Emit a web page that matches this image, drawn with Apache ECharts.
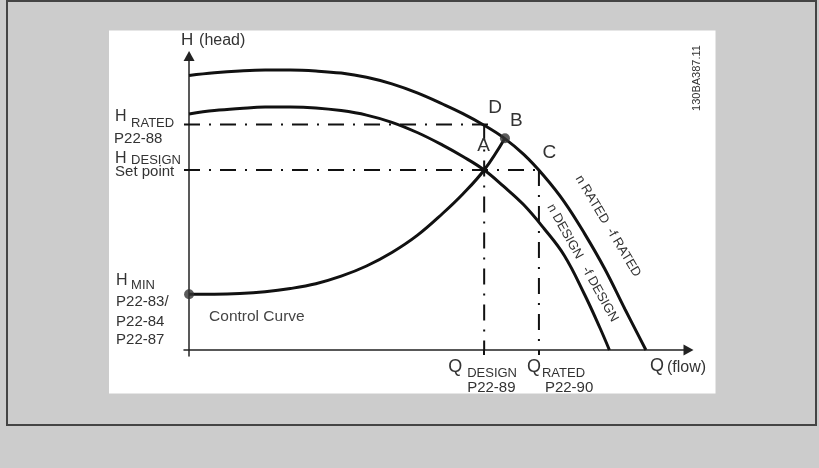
<!DOCTYPE html>
<html>
<head>
<meta charset="utf-8">
<script src="https://cdn.jsdelivr.net/npm/echarts@6/dist/echarts.min.js"></script>
<style>
  html, body { margin: 0; padding: 0; background: #cccccc; }
  #chart { width: 819px; height: 468px; }
</style>
</head>
<body>
<div id="chart"></div>
<script>
// Pump curves: flow Q (x) against head H (y), both in relative units.
const ratedCurve = [
  [0, 91.5], [5, 92.4], [10, 93.0], [15, 93.3], [20, 93.3], [25, 93.0], [30, 92.3],
  [35, 90.9], [40, 88.7], [45, 85.7], [50, 82.0], [54, 78.8], [58, 75.1], [62, 70.8],
  [66, 65.2], [70, 58.0], [74, 49.4], [78, 38.8], [82, 27.0], [86, 13.5], [90.1, 0]
];
const designCurve = [
  [0, 78.7], [5, 79.8], [10, 80.5], [15, 81.0], [20, 81.0], [25, 80.7], [30, 79.8],
  [35, 78.3], [40, 75.9], [45, 72.5], [50, 68.3], [54, 64.5], [58.2, 60.0], [62, 54.6],
  [66, 48.4], [70, 40.5], [74, 31.5], [78, 18.5], [81, 7.5], [82.9, 0]
];
const controlCurve = [
  [0, 18.6], [5, 18.6], [10, 18.8], [15, 19.4], [20, 20.5], [25, 22.1], [30, 24.6],
  [35, 28.0], [40, 32.5], [45, 38.2], [50, 45.5], [54, 52.0], [58.2, 60.0], [62.3, 70.6]
];

// Operating points and parameter levels
const qDesign = 58.2;
const qRated = 69.0;
const hRated = 75.2;
const hDesign = 60.0;
const hMin = 18.6;
const pointB = [62.3, 70.6];
const hRatedLineEnd = 60.0;

const FONT = "'Liberation Sans', Arial, sans-serif";
const TEXT = '#333333';
const INK = '#111111';
const dashDot = { color: INK, width: 2, type: [16, 9, 2, 9] };

const chart = echarts.init(document.getElementById('chart'), null, { renderer: 'canvas' });

function lineSeries(data, style, smooth) {
  return {
    type: 'line', data: data, symbol: 'none', silent: true,
    smooth: smooth ? 0.4 : false,
    lineStyle: style, z: 3
  };
}

chart.setOption({
  animation: false,
  backgroundColor: '#cccccc',
  grid: { left: 184, width: 504.5, top: 56, height: 300, containLabel: false },
  xAxis: {
    type: 'value', min: -1, max: 98.5,
    axisLine: {
      onZero: true, lineStyle: { color: '#222', width: 1.5 },
      symbol: ['none', 'triangle'], symbolSize: [11, 10]
    },
    axisTick: { show: true, customValues: [qDesign, qRated], length: 5, lineStyle: { color: INK, width: 2 } },
    axisLabel: { show: false },
    splitLine: { show: false }
  },
  yAxis: {
    type: 'value', min: -2, max: 98,
    axisLine: {
      show: true, onZero: true, lineStyle: { color: '#222', width: 1.5 },
      symbol: ['none', 'triangle'], symbolSize: [11, 10]
    },
    axisTick: { show: false },
    axisLabel: { show: false },
    splitLine: { show: false }
  },
  series: [
    lineSeries([[-1, hRated], [hRatedLineEnd, hRated]], dashDot, false),
    lineSeries([[qDesign, hRated], [qDesign, 0]], dashDot, false),
    lineSeries([[-1, hDesign], [qRated, hDesign]], dashDot, false),
    lineSeries([[qRated, hDesign], [qRated, 0]], dashDot, false),
    lineSeries(ratedCurve, { color: INK, width: 3 }, true),
    lineSeries(designCurve, { color: INK, width: 3 }, true),
    lineSeries(controlCurve, { color: INK, width: 3 }, true),
    {
      type: 'scatter', data: [[0, hMin], pointB], symbol: 'circle', symbolSize: 10,
      itemStyle: { color: '#333' }, silent: true, z: 5
    }
  ]
});

const px = (q, h) => chart.convertToPixel({ gridIndex: 0 }, [q, h]);

function txt(anchor, dx, dy, text, size, opts) {
  opts = opts || {};
  return {
    type: 'text', z: 10,
    x: anchor[0] + dx, y: anchor[1] + dy,
    rotation: opts.rotation || 0,
    style: {
      text: text, font: size + 'px ' + FONT, fill: opts.fill || TEXT,
      align: opts.align || 'left', verticalAlign: 'middle'
    }
  };
}

const oTop = px(0, 98);
const oRated = px(0, hRated);
const oDesign = px(0, hDesign);
const oMin = px(0, hMin);
const oQD = px(qDesign, 0);
const oQR = px(qRated, 0);
const oQEnd = px(98.5, 0);
const oD = px(qDesign, hRated);
const oA = px(qDesign, hDesign);
const oB = px(pointB[0], pointB[1]);
const oC = px(qRated, hDesign);
const oRatedLbl = px(82.6, 41.3);
const oDesignLbl = px(77.6, 29.0);

chart.setOption({
  graphic: [
    { type: 'rect', z: -10, shape: { x: 7, y: 1, width: 809, height: 424 },
      style: { fill: null, stroke: '#444', lineWidth: 2 } },
    { type: 'rect', z: -9, shape: { x: 109, y: 30.5, width: 606.5, height: 363 },
      style: { fill: '#ffffff' } },

    // axis titles
    txt(oTop, -8, -15.5, 'H', 17),
    txt(oTop, 10, -15, '(head)', 16),
    txt(oQEnd, -38.5, 16.5, 'Q', 18),
    txt(oQEnd, -21.5, 17.5, '(flow)', 16),

    // head levels
    txt(oRated, -74, -7.5, 'H', 16),
    txt(oRated, -58, -1, 'RATED', 13),
    txt(oRated, -75, 14.6, 'P22-88', 15),
    txt(oDesign, -74, -11.7, 'H', 16),
    txt(oDesign, -58, -10, 'DESIGN', 13),
    txt(oDesign, -74, 2, 'Set point', 15),
    txt(oMin, -73, -13.8, 'H', 16),
    txt(oMin, -58, -8.3, 'MIN', 13),
    txt(oMin, -73, 8, 'P22-83/', 15),
    txt(oMin, -73, 27.4, 'P22-84', 15),
    txt(oMin, -73, 45.7, 'P22-87', 15),
    txt(oMin, 20, 23, 'Control Curve', 15.5, { fill: '#444' }),

    // flow levels
    txt(oQD, -36, 17, 'Q', 18),
    txt(oQD, -17, 23.7, 'DESIGN', 13),
    txt(oQD, -17, 38, 'P22-89', 15),
    txt(oQR, -12, 17, 'Q', 18),
    txt(oQR, 3, 23.7, 'RATED', 13),
    txt(oQR, 6, 38, 'P22-90', 15),

    // operating points
    txt(oD, 4.2, -16.4, 'D', 19),
    txt(oB, 5, -17.8, 'B', 19),
    txt(oA, -7, -24, 'A', 19),
    txt(oC, 3.6, -17.5, 'C', 19),

    // curve names
    txt(oRatedLbl, 0, 0, 'n RATED  -f RATED', 13, { align: 'center', rotation: -59.2 * Math.PI / 180 }),
    txt(oDesignLbl, 0, 0, 'n DESIGN   -f DESIGN', 13, { align: 'center', rotation: -60.8 * Math.PI / 180 }),

    // drawing number
    { type: 'text', z: 10, x: 697, y: 78, rotation: Math.PI / 2,
      style: { text: '130BA387.11', font: '11px ' + FONT, fill: TEXT, align: 'center', verticalAlign: 'middle' } }
  ]
});
</script>
</body>
</html>
